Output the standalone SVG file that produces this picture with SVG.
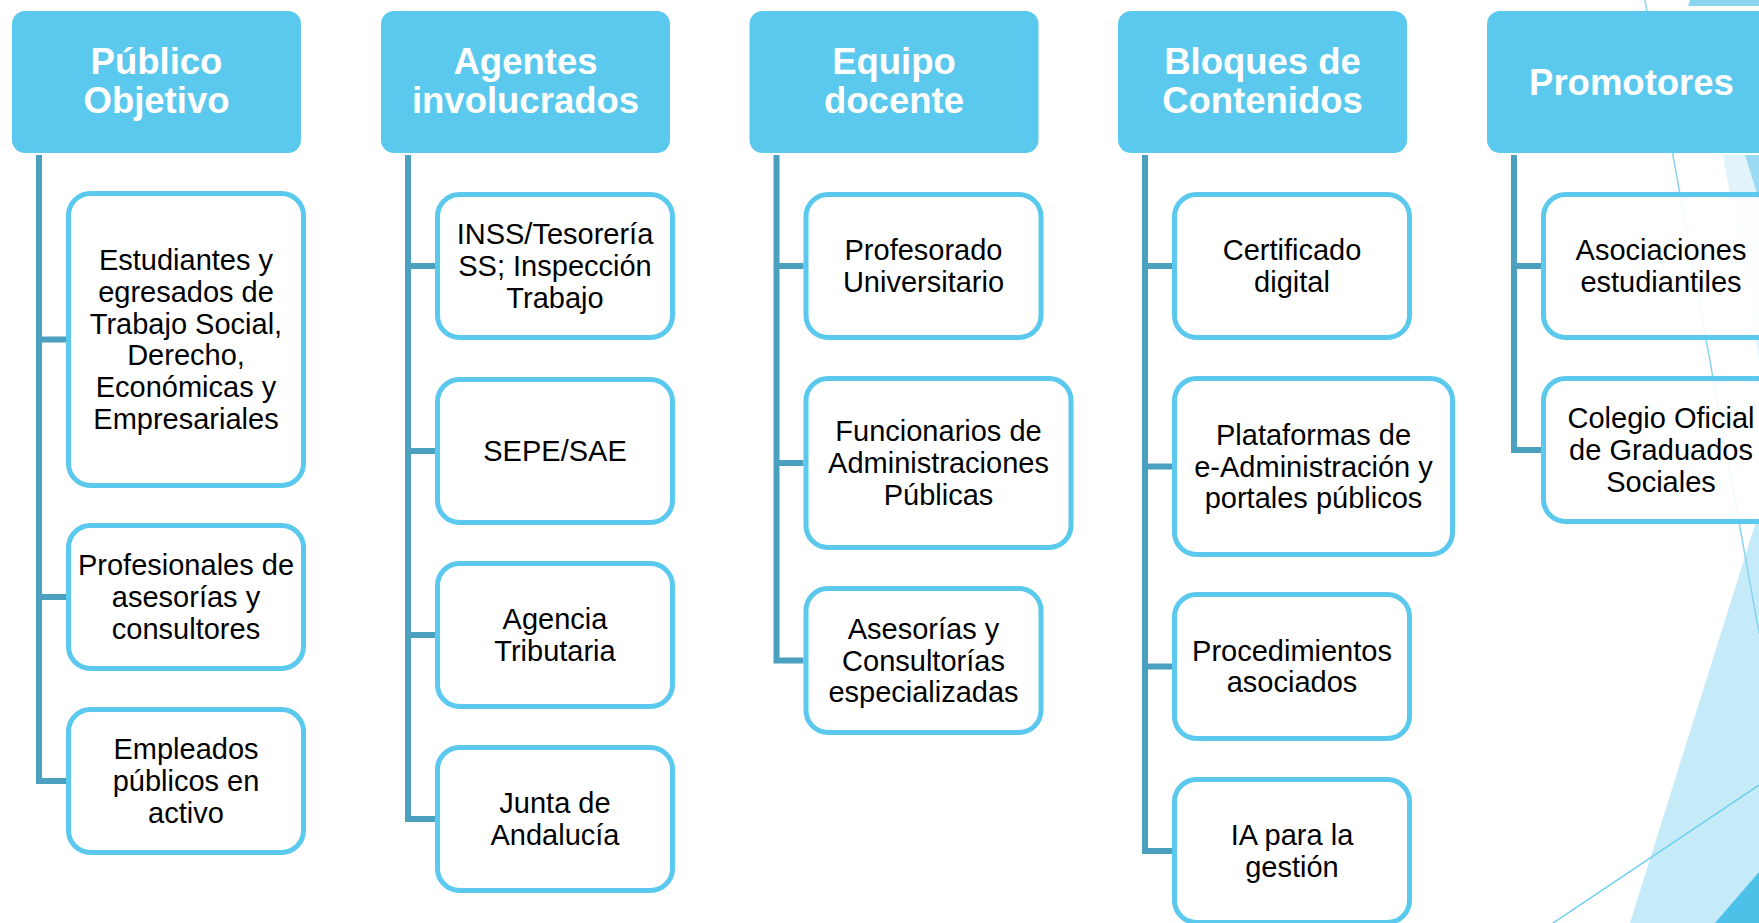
<svg xmlns="http://www.w3.org/2000/svg" width="1759" height="923" viewBox="0 0 1759 923">
<style>
.hdr{fill:#5BC9EE}
.ht{font-family:"Liberation Sans",Arial,sans-serif;font-weight:bold;font-size:36.5px;fill:#FFFFFF;text-anchor:middle}
.box{fill:#FFFFFF;fill-opacity:0.88;stroke:#5BC9EE;stroke-width:5}
.bt{font-family:"Liberation Sans",Arial,sans-serif;font-size:29px;fill:#000000;text-anchor:middle}
.con{fill:none;stroke:#4BA0C0;stroke-width:6;stroke-linejoin:miter}
</style>
<rect width="1759" height="923" fill="#FFFFFF"/>
<g id="background">
  <polygon points="1690,0 1759,0 1759,6 1688,6" fill="#8AD4F0"/>
  <polygon points="1723,155 1759,155 1759,360" fill="#E2F4FB"/>
  <polygon points="1745,155 1759,155 1759,200" fill="#9ADAF3"/>
  <polygon points="1630,923 1759,512 1759,923" fill="#C5EAF8"/>
  <polygon points="1715,923 1759,872 1759,923" fill="#4DC1E8"/>
  <line x1="1645" y1="0" x2="1759" y2="633" stroke="#8AD4F0" stroke-width="1.5"/>
  <line x1="1553" y1="923" x2="1759" y2="785" stroke="#6ACDF0" stroke-width="1.5"/>
</g>
<g id="connectors">
  <path class="con" d="M39 155 V781 H66 M39 339.5 H66 M39 597 H66"/>
  <path class="con" d="M408 155 V819 H435 M408 266 H435 M408 451 H435 M408 635 H435"/>
  <path class="con" d="M776.5 155 V660.5 H803.5 M776.5 266 H803.5 M776.5 463 H803.5"/>
  <path class="con" d="M1145 155 V851 H1172 M1145 266 H1172 M1145 466.5 H1172 M1145 666.5 H1172"/>
  <path class="con" d="M1514 155 V450 H1541 M1514 266 H1541"/>
</g>
<g id="h-publico"><rect class="hdr" x="12" y="11" width="289" height="142" rx="13"/><text class="ht" x="156.5" y="74">Público<tspan x="156.5" dy="39">Objetivo</tspan></text></g>
<g id="h-agentes"><rect class="hdr" x="381" y="11" width="289" height="142" rx="13"/><text class="ht" x="525.5" y="74">Agentes<tspan x="525.5" dy="39">involucrados</tspan></text></g>
<g id="h-equipo"><rect class="hdr" x="749.5" y="11" width="289" height="142" rx="13"/><text class="ht" x="894" y="74">Equipo<tspan x="894" dy="39">docente</tspan></text></g>
<g id="h-bloques"><rect class="hdr" x="1118" y="11" width="289" height="142" rx="13"/><text class="ht" x="1262.5" y="74">Bloques de<tspan x="1262.5" dy="39">Contenidos</tspan></text></g>
<g id="h-promotores"><rect class="hdr" x="1487" y="11" width="289" height="142" rx="13"/><text class="ht" x="1631.5" y="94.5">Promotores</text></g>

<g id="n-estudiantes"><rect class="box" x="68.5" y="193.5" width="235" height="292" rx="22"/><text class="bt" x="186" y="270.25">Estudiantes y<tspan x="186" dy="31.7">egresados de</tspan><tspan x="186" dy="31.7">Trabajo Social,</tspan><tspan x="186" dy="31.7">Derecho,</tspan><tspan x="186" dy="31.7">Económicas y</tspan><tspan x="186" dy="31.7">Empresariales</tspan></text></g>
<g id="n-profesionales"><rect class="box" x="68.5" y="525.5" width="235" height="143" rx="22"/><text class="bt" x="186" y="575.3">Profesionales de<tspan x="186" dy="31.7">asesorías y</tspan><tspan x="186" dy="31.7">consultores</tspan></text></g>
<g id="n-empleados"><rect class="box" x="68.5" y="709.5" width="235" height="143" rx="22"/><text class="bt" x="186" y="759.3">Empleados<tspan x="186" dy="31.7">públicos en</tspan><tspan x="186" dy="31.7">activo</tspan></text></g>

<g id="n-inss"><rect class="box" x="437.5" y="194.5" width="235" height="143" rx="22"/><text class="bt" x="555" y="244.3">INSS/Tesorería<tspan x="555" dy="31.7">SS; Inspección</tspan><tspan x="555" dy="31.7">Trabajo</tspan></text></g>
<g id="n-sepe"><rect class="box" x="437.5" y="379.5" width="235" height="143" rx="22"/><text class="bt" x="555" y="461">SEPE/SAE</text></g>
<g id="n-agencia"><rect class="box" x="437.5" y="563.5" width="235" height="143" rx="22"/><text class="bt" x="555" y="629.15">Agencia<tspan x="555" dy="31.7">Tributaria</tspan></text></g>
<g id="n-junta"><rect class="box" x="437.5" y="747.5" width="235" height="143" rx="22"/><text class="bt" x="555" y="813.15">Junta de<tspan x="555" dy="31.7">Andalucía</tspan></text></g>

<g id="n-profesorado"><rect class="box" x="806" y="194.5" width="235" height="143" rx="22"/><text class="bt" x="923.5" y="260.15">Profesorado<tspan x="923.5" dy="31.7">Universitario</tspan></text></g>
<g id="n-funcionarios"><rect class="box" x="806" y="378.5" width="265" height="169" rx="22"/><text class="bt" x="938.5" y="441.3">Funcionarios de<tspan x="938.5" dy="31.7">Administraciones</tspan><tspan x="938.5" dy="31.7">Públicas</tspan></text></g>
<g id="n-asesorias"><rect class="box" x="806" y="588.5" width="235" height="144" rx="22"/><text class="bt" x="923.5" y="638.8">Asesorías y<tspan x="923.5" dy="31.7">Consultorías</tspan><tspan x="923.5" dy="31.7">especializadas</tspan></text></g>

<g id="n-certificado"><rect class="box" x="1174.5" y="194.5" width="235" height="143" rx="22"/><text class="bt" x="1292" y="260.15">Certificado<tspan x="1292" dy="31.7">digital</tspan></text></g>
<g id="n-plataformas"><rect class="box" x="1174.5" y="378.5" width="278" height="176" rx="22"/><text class="bt" x="1313.5" y="444.8">Plataformas de<tspan x="1313.5" dy="31.7">e-Administración y</tspan><tspan x="1313.5" dy="31.7">portales públicos</tspan></text></g>
<g id="n-procedimientos"><rect class="box" x="1174.5" y="594.5" width="235" height="144" rx="22"/><text class="bt" x="1292" y="660.65">Procedimientos<tspan x="1292" dy="31.7">asociados</tspan></text></g>
<g id="n-ia"><rect class="box" x="1174.5" y="779.5" width="235" height="143" rx="22"/><text class="bt" x="1292" y="845.15">IA para la<tspan x="1292" dy="31.7">gestión</tspan></text></g>

<g id="n-asociaciones"><rect class="box" x="1543.5" y="194.5" width="235" height="143" rx="22"/><text class="bt" x="1661" y="260.15">Asociaciones<tspan x="1661" dy="31.7">estudiantiles</tspan></text></g>
<g id="n-colegio"><rect class="box" x="1543.5" y="378.5" width="235" height="143" rx="22"/><text class="bt" x="1661" y="428.3">Colegio Oficial<tspan x="1661" dy="31.7">de Graduados</tspan><tspan x="1661" dy="31.7">Sociales</tspan></text></g>
</svg>
